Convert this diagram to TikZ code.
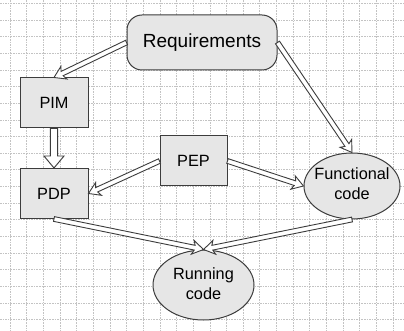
\documentclass[tikz,border=0pt]{standalone}
\usepackage{fontspec}
\setmainfont{Liberation Sans}
\usetikzlibrary{calc,shapes.geometric}
\definecolor{nodefill}{RGB}{230,230,230}
\definecolor{edgecol}{RGB}{60,60,60}
\definecolor{gridcol}{RGB}{195,195,195}
\tikzset{
  gridline/.style={draw=gridcol,line width=0.6pt,dash pattern=on 1.6pt off 1pt},
  boxnode/.style={draw=edgecol,fill=nodefill,line width=1pt,inner sep=0pt,
    font=\fontsize{16.3}{20}\selectfont},
  ellnode/.style={ellipse,draw=edgecol,fill=nodefill,line width=1pt,inner sep=0pt,
    font=\fontsize{16.3}{20}\selectfont},
  arrowbody/.style={draw=edgecol,fill=white,line width=0.9pt,line join=miter},
}
\newcommand\hollowarrow[6]{%
  \coordinate (ha) at (#1);
  \coordinate (hb) at (#2);
  \coordinate (hh) at ($(hb)!#5!(ha)$);
  \coordinate (hk) at ($(hb)!#6!(ha)$);
  \filldraw[arrowbody] ($(ha)!#3!90:(hb)$) -- ($(hh)!#3!90:(hb)$) -- ($(hk)!#4!90:(hb)$) -- (hb)
    -- ($(hk)!#4!-90:(hb)$) -- ($(hh)!#3!-90:(hb)$) -- ($(ha)!#3!-90:(hb)$) -- cycle;
}
\begin{document}
\begin{tikzpicture}[x=1pt,y=-1pt]
\useasboundingbox (0,0) rectangle (404,331);
\fill[white] (0,0) rectangle (404,331);
% grid
\foreach \i in {0,...,23} {\draw[gridline] ({10+16.65*\i},0) -- ({10+16.65*\i},331);}
\foreach \j in {0,...,19} {\draw[gridline] (0,{3.3+16.65*\j}) -- (404,{3.3+16.65*\j});}
% nodes
\node[boxnode,rounded corners=15pt,minimum width=150pt,minimum height=55pt,
  font=\fontsize{19}{23}\selectfont] (req) at (202,42.5) {Requirements};
\node[boxnode,minimum width=68pt,minimum height=50pt] (pim) at (54,103) {PIM};
\node[boxnode,minimum width=68pt,minimum height=50pt] (pdp) at (54,193.5) {PDP};
\node[boxnode,minimum width=67pt,minimum height=50pt] (pep) at (193.5,161) {PEP};
\node[ellnode,minimum width=96pt,minimum height=66pt] (func) at (352,186)
  {\makebox[0pt]{\begin{tabular}{@{}c@{}}Functional\\code\end{tabular}}};
\node[ellnode,minimum width=101pt,minimum height=70pt] (run) at (203.5,285)
  {\makebox[0pt]{\begin{tabular}{@{}c@{}}Running\\code\end{tabular}}};
% connectors
\hollowarrow{req.west}{pim.north}{2.4pt}{7pt}{9pt}{11pt}
\hollowarrow{req.east}{func.north}{2.4pt}{7pt}{9pt}{11pt}
\hollowarrow{pim.south}{pdp.north}{3.6pt}{10pt}{12pt}{12pt}
\hollowarrow{pep.west}{pdp.east}{2.4pt}{7pt}{9pt}{11pt}
\hollowarrow{pep.east}{func.west}{2.4pt}{7pt}{9pt}{11pt}
\hollowarrow{pdp.south}{run.north}{2.4pt}{7pt}{9pt}{11pt}
\hollowarrow{func.south}{run.north}{2.4pt}{7pt}{9pt}{11pt}
\end{tikzpicture}
\end{document}
